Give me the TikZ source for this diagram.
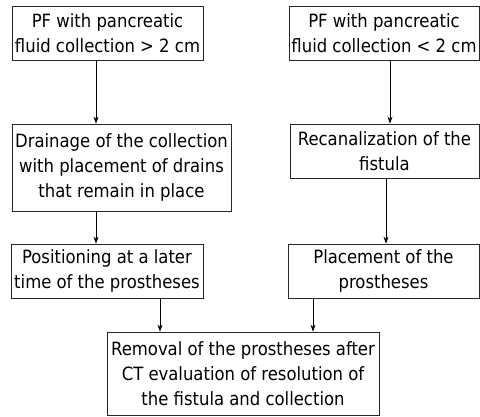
\documentclass[tikz,border=0pt]{standalone}
\usepackage{fontspec}
\setmainfont{DejaVu Sans Condensed}
\usetikzlibrary{arrows.meta}
\begin{document}
\begin{tikzpicture}[x=1pt,y=-1pt,
  box/.style={draw=black!85,line width=0.8pt,inner sep=0pt,align=center,
    font=\fontsize{18.3}{25}\selectfont},
  arr/.style={draw=black,line width=0.7pt,-{Stealth[length=7pt,width=5pt]}}]
\useasboundingbox (0,0) rectangle (480,416);
\node[box,minimum width=191pt,minimum height=54pt] (b1) at (107.5,33) {PF with pancreatic\\fluid collection > 2 cm};
\node[box,minimum width=219pt,minimum height=87pt] (b2) at (121.5,167.5) {Drainage of the collection\\with placement of drains\\that remain in place};
\node[box,minimum width=190pt,minimum height=54pt] (b3) at (384,33) {PF with pancreatic\\fluid collection < 2 cm};
\node[box,minimum width=189pt,minimum height=54pt] (b4) at (384.5,151) {Recanalization of the\\fistula};
\node[box,minimum width=192pt,minimum height=54pt] (b5) at (107,271) {Positioning at a later\\time of the prostheses};
\node[box,minimum width=191pt,minimum height=54pt] (b6) at (383.5,271) {Placement of the\\prostheses};
\node[box,minimum width=272pt,minimum height=83pt] (b7) at (243,373.5) {Removal of the prostheses after\\CT evaluation of resolution of\\the fistula and collection};
\coordinate (xl) at (96,0);
\coordinate (xr) at (390,0);
\coordinate (xr2) at (386,0);
\coordinate (x7l) at (160,0);
\coordinate (x7r) at (313,0);
\draw[arr] (b1.south -| xl) -- (b2.north -| xl);
\draw[arr] (b2.south -| xl) -- (b5.north -| xl);
\draw[arr] (b3.south -| xr) -- (b4.north -| xr);
\draw[arr] (b4.south -| xr2) -- (b6.north -| xr2);
\draw[arr] (b5.south -| x7l) -- (b7.north -| x7l);
\draw[arr] (b6.south -| x7r) -- (b7.north -| x7r);
\end{tikzpicture}
\end{document}
